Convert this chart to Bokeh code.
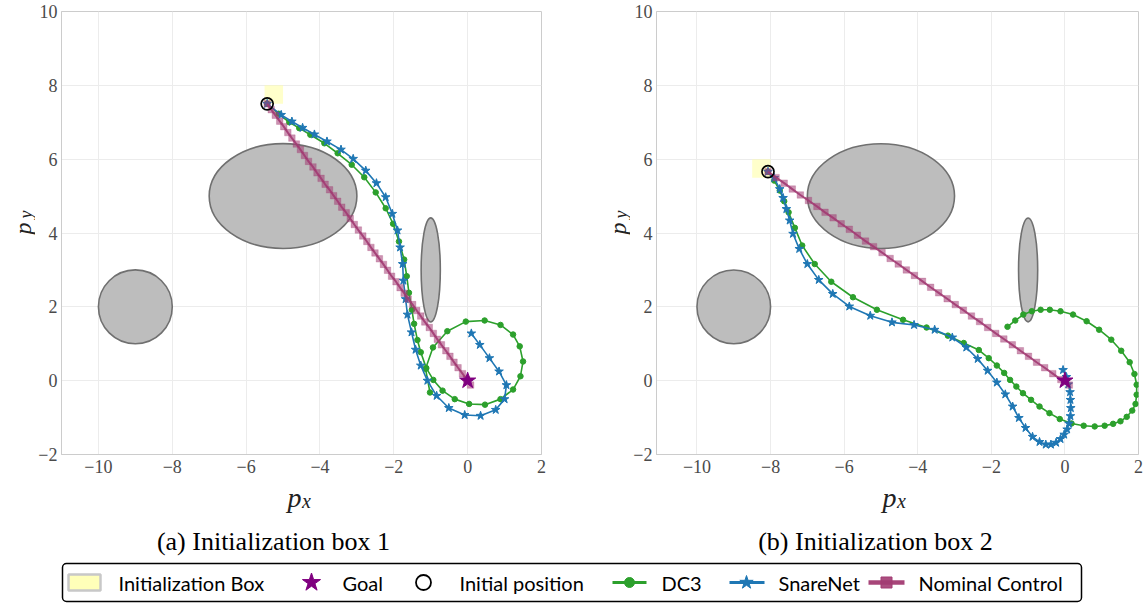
from math import pi
from bokeh.plotting import figure
from bokeh.layouts import column, row
from bokeh.models import Range1d, FixedTicker, CustomJSTickFormatter
from bokeh.embed import file_html
from bokeh.resources import INLINE
from bokeh.core.properties import value

# ---------------- data ----------------
x_ticks = [-10, -8, -6, -4, -2, 0, 2]
y_ticks = [-2, 0, 2, 4, 6, 8, 10]

obstacle_cx = [-9.0, -5.0, -1.0]
obstacle_cy = [2.0, 5.0, 3.0]
obstacle_w = [2.0, 4.0, 0.52]
obstacle_h = [2.0, 2.84, 2.82]

goal_x = [0.0]
goal_y = [0.0]

# initialization boxes: left, right, bottom, top
box1 = [-5.5, -5.0, 7.5, 8.0]
box2 = [-8.5, -8.0, 5.5, 6.0]

init1_x = [-5.43]
init1_y = [7.50]
init2_x = [-8.07]
init2_y = [5.66]

# ---- panel (a) ----
dc3_a_x = [-5.43, -5.12, -4.83, -4.56, -4.26, -3.88, -3.52, -3.14, -2.80, -2.49, -2.22, -2.02, -1.86,
           -1.72, -1.65, -1.59, -1.51, -1.45, -1.36, -1.27, -1.12, -0.93, -0.68, -0.35, 0.04, 0.47,
           0.89, 1.23, 1.43, 1.50, 1.41, 1.23, 0.89, 0.46, -0.05, -0.55, -0.94, -1.14, -1.02]
dc3_a_y = [7.50, 7.23, 7.00, 6.84, 6.66, 6.43, 6.16, 5.85, 5.51, 5.10, 4.67, 4.25, 3.77,
           3.28, 2.83, 2.38, 1.92, 1.54, 1.10, 0.77, 0.34, 0.02, -0.27, -0.50, -0.63, -0.65,
           -0.50, -0.24, 0.12, 0.52, 0.93, 1.25, 1.51, 1.63, 1.60, 1.34, 0.90, 0.32, -0.32]

snare_a_x = [-5.43, -5.05, -4.76, -4.47, -4.15, -3.81, -3.43, -3.10, -2.76, -2.47, -2.22, -2.04, -1.90,
             -1.83, -1.76, -1.74, -1.68, -1.63, -1.52, -1.41, -1.27, -1.09, -0.84, -0.51, -0.08, 0.35,
             0.76, 1.00, 1.05, 0.85, 0.59, 0.33, 0.10]
snare_a_y = [7.50, 7.20, 7.02, 6.85, 6.67, 6.48, 6.26, 6.01, 5.69, 5.35, 4.97, 4.52, 4.07,
             3.61, 3.16, 2.71, 2.21, 1.79, 1.31, 0.84, 0.41, 0.00, -0.41, -0.74, -0.93, -0.95,
             -0.79, -0.50, -0.12, 0.25, 0.61, 0.97, 1.28]

nom_a_x = [-5.43, -5.32, -5.21, -5.09, -4.98, -4.87, -4.76, -4.64, -4.53, -4.42,
           -4.31, -4.19, -4.08, -3.97, -3.86, -3.74, -3.63, -3.52, -3.41, -3.29,
           -3.18, -3.07, -2.96, -2.84, -2.73, -2.62, -2.51, -2.39, -2.28, -2.17,
           -2.06, -1.94, -1.83, -1.72, -1.61, -1.49, -1.38, -1.27, -1.16, -1.04,
           -0.93, -0.82, -0.71, -0.59, -0.48, -0.37, -0.26, -0.14, -0.03, 0.08]
nom_a_y = [7.50, 7.34, 7.19, 7.03, 6.88, 6.72, 6.57, 6.41, 6.26, 6.10,
           5.94, 5.79, 5.63, 5.48, 5.32, 5.17, 5.01, 4.86, 4.70, 4.55,
           4.39, 4.23, 4.08, 3.92, 3.77, 3.61, 3.46, 3.30, 3.15, 2.99,
           2.83, 2.68, 2.52, 2.37, 2.21, 2.06, 1.90, 1.75, 1.59, 1.44,
           1.28, 1.12, 0.97, 0.81, 0.66, 0.50, 0.35, 0.19, 0.04, -0.12]

# ---- panel (b) ----
dc3_b_x = [-8.07, -7.90, -7.75, -7.63, -7.51, -7.34, -7.14, -6.80, -6.35, -5.76, -5.11, -4.40, -3.76,
           -3.18, -2.75, -2.34, -2.07, -1.85, -1.65, -1.49, -1.32, -1.14, -0.92, -0.69, -0.42, -0.14,
           0.18, 0.51, 0.81, 1.08, 1.31, 1.51, 1.68, 1.83, 1.92, 1.95, 1.95, 1.89, 1.76, 1.53,
           1.26, 0.93, 0.59, 0.22, -0.12, -0.41, -0.66, -0.90, -1.13, -1.35, -1.56]
dc3_b_y = [5.66, 5.42, 5.15, 4.86, 4.56, 4.14, 3.66, 3.16, 2.68, 2.26, 1.92, 1.65, 1.44,
           1.22, 1.02, 0.83, 0.61, 0.41, 0.21, 0.02, -0.16, -0.34, -0.52, -0.70, -0.88, -1.04,
           -1.16, -1.22, -1.24, -1.22, -1.17, -1.10, -0.98, -0.81, -0.63, -0.38, -0.11, 0.18, 0.50, 0.81,
           1.11, 1.38, 1.61, 1.79, 1.88, 1.92, 1.92, 1.88, 1.79, 1.63, 1.46]

snare_b_x = [-8.07, -7.90, -7.75, -7.66, -7.57, -7.48, -7.39, -7.22, -7.00, -6.69, -6.31, -5.86, -5.29,
             -4.70, -4.10, -3.54, -3.06, -2.68, -2.37, -2.10, -1.85, -1.62, -1.42, -1.25, -1.07, -0.88,
             -0.69, -0.52, -0.38, -0.24, -0.12, -0.02, 0.06, 0.11, 0.15, 0.16, 0.15, 0.14, 0.09, 0.04, -0.05]
snare_b_y = [5.66, 5.49, 5.19, 4.95, 4.65, 4.34, 3.98, 3.57, 3.16, 2.73, 2.35, 2.01, 1.76,
             1.58, 1.51, 1.38, 1.17, 0.90, 0.59, 0.27, -0.05, -0.37, -0.70, -1.01, -1.28, -1.52,
             -1.66, -1.73, -1.73, -1.68, -1.58, -1.46, -1.32, -1.16, -0.96, -0.74, -0.52, -0.31, -0.10, 0.10, 0.29]

nom_b_x = [-8.07, -7.85, -7.63, -7.41, -7.19, -6.97, -6.74, -6.52, -6.30, -6.08,
           -5.86, -5.64, -5.42, -5.20, -4.97, -4.75, -4.53, -4.31, -4.09, -3.87,
           -3.65, -3.43, -3.20, -2.98, -2.76, -2.54, -2.32, -2.10, -1.88, -1.66,
           -1.43, -1.21, -0.99, -0.77, -0.55, -0.33, -0.11, 0.12]
nom_b_y = [5.66, 5.50, 5.35, 5.19, 5.03, 4.88, 4.72, 4.56, 4.41, 4.25,
           4.10, 3.94, 3.78, 3.63, 3.47, 3.31, 3.16, 3.00, 2.85, 2.69,
           2.53, 2.38, 2.22, 2.06, 1.91, 1.75, 1.60, 1.44, 1.28, 1.13,
           0.97, 0.81, 0.66, 0.50, 0.35, 0.19, 0.03, -0.12]

captions = ["(a) Initialization box 1", "(b) Initialization box 2"]
legend_labels = ["Initialization Box", "Goal", "Initial position", "DC3", "SnareNet", "Nominal Control"]

# ---------------- style ----------------
GREEN = "#2ca02c"
BLUE = "#1f77b4"
MAG = "#A23B72"
PURPLE = "#800080"
BOXFILL = "#ffffa8"
SERIF = "Liberation Serif"
TXT = "#222222"
TOP_H = 482
YLAB_W = 35

minus_fmt = CustomJSTickFormatter(code="return tick < 0 ? '\u2212' + Math.abs(tick) : String(tick);")


def blank_fig(width, height):
    f = figure(width=width, height=height, x_range=Range1d(0, width), y_range=Range1d(0, height),
               output_backend="svg", toolbar_location=None, x_axis_type=None, y_axis_type=None,
               min_border=0, min_border_left=0, min_border_right=0, min_border_top=0,
               min_border_bottom=0)
    f.outline_line_color = None
    f.background_fill_color = "white"
    f.border_fill_color = "white"
    f.xgrid.visible = False
    f.ygrid.visible = False
    return f


def ylabel_fig(width):
    f = blank_fig(width, TOP_H)
    # p_y, rotated, reading upwards
    f.text(x=[22.5], y=[TOP_H - 236], text=["p"], angle=pi / 2, text_font=value(SERIF),
           text_font_style="italic", text_font_size="24px", text_align="center",
           text_baseline="alphabetic", text_color=TXT)
    f.text(x=[25.5], y=[TOP_H - 221], text=["y"], angle=pi / 2, text_font=value(SERIF),
           text_font_style="italic", text_font_size="18px", text_align="center",
           text_baseline="alphabetic", text_color=TXT)
    return f


def make_panel(x_lo, width, b_left, b_right, box, ix, iy, dx, dy, sx, sy, nx, ny):
    p = figure(width=width, height=TOP_H, x_range=Range1d(x_lo, 2), y_range=Range1d(-2, 10),
               output_backend="svg", toolbar_location=None,
               min_border_left=b_left, min_border_right=b_right,
               min_border_top=11, min_border_bottom=TOP_H - 454)
    p.background_fill_color = "white"
    p.border_fill_color = "white"
    p.outline_line_color = "#cccccc"
    p.outline_line_width = 1
    for ax, ticks in ((p.xaxis, x_ticks), (p.yaxis, y_ticks)):
        ax.ticker = FixedTicker(ticks=ticks)
        ax.formatter = minus_fmt
        ax.axis_line_color = "#cccccc"
        ax.major_tick_line_color = None
        ax.minor_tick_line_color = None
        ax.major_tick_out = 0
        ax.major_tick_in = 0
        ax.minor_tick_out = 0
        ax.major_label_text_font = SERIF
        ax.major_label_text_font_size = "18px"
        ax.major_label_text_color = "#4a4a4a"
    p.xaxis.major_label_standoff = 5
    p.yaxis.major_label_standoff = 4
    p.xgrid.grid_line_color = "#ececec"
    p.ygrid.grid_line_color = "#ececec"

    # obstacles
    p.ellipse(x=obstacle_cx, y=obstacle_cy, width=obstacle_w, height=obstacle_h,
              fill_color="#bdbdbd", line_color="#707070", line_width=1.6)
    # initialization box
    p.quad(left=[box[0]], right=[box[1]], bottom=[box[2]], top=[box[3]],
           fill_color=BOXFILL, fill_alpha=0.6, line_color=None)
    # DC3
    p.line(dx, dy, line_color=GREEN, line_width=1.6)
    p.scatter(dx, dy, marker="circle", size=5.5, fill_color=GREEN, line_color=GREEN)
    # SnareNet
    p.line(sx, sy, line_color=BLUE, line_width=1.6)
    p.scatter(sx, sy, marker="star", size=9, fill_color=BLUE, line_color=BLUE)
    # Nominal control
    p.line(nx, ny, line_color=MAG, line_width=2.0, line_alpha=0.9)
    p.scatter(nx, ny, marker="square", size=6.5, fill_color=MAG, fill_alpha=0.55,
              line_color=MAG, line_alpha=0.25)
    # goal
    p.scatter(goal_x, goal_y, marker="star", size=17, fill_color=PURPLE, line_color=PURPLE)
    # initial position
    p.scatter(ix, iy, marker="circle", size=12, fill_color=None, line_color="black", line_width=1.7)
    return p


ya = ylabel_fig(YLAB_W)
pa = make_panel(-11.0, 595 - YLAB_W, 59 - YLAB_W, 54, box1, init1_x, init1_y, dc3_a_x, dc3_a_y,
                snare_a_x, snare_a_y, nom_a_x, nom_a_y)
yb = ylabel_fig(YLAB_W)
pb = make_panel(-11.1, 553 - YLAB_W, 58 - YLAB_W, 10, box2, init2_x, init2_y, dc3_b_x, dc3_b_y,
                snare_b_x, snare_b_y, nom_b_x, nom_b_y)

# ---------------- p_x labels, captions + legend ----------------
BOT_H = 603 - TOP_H
pl = blank_fig(1148, BOT_H)

# p_x labels (page y of baseline 497 / 500)
pl.text(x=[294, 889], y=[603 - 497] * 2, text=["p", "p"], text_font=value(SERIF),
        text_font_style="italic", text_font_size="28px", text_align="center",
        text_baseline="alphabetic", text_color=TXT)
pl.text(x=[306, 901], y=[603 - 500] * 2, text=["x", "x"], text_font=value(SERIF),
        text_font_style="italic", text_font_size="20px", text_align="center",
        text_baseline="alphabetic", text_color=TXT)

pl.text(x=[273, 875], y=[62, 62], text=captions, text_font=value(SERIF), text_font_size="26px",
        text_align="center", text_baseline="middle", text_color="black")

# legend frame
try:
    pl.quad(left=[62], right=[1081], bottom=[2], top=[40], fill_color="white",
            line_color="black", line_width=1.5, border_radius=4)
except Exception:
    pl.quad(left=[62], right=[1081], bottom=[2], top=[40], fill_color="white",
            line_color="black", line_width=1.5)
LY = 21
# swatch: initialization box
pl.quad(left=[68], right=[100], bottom=[LY - 8], top=[LY + 8], fill_color=BOXFILL, fill_alpha=0.8,
        line_color="#c8c8c8", line_width=2.5)
# goal
pl.scatter([311], [LY], marker="star", size=19, fill_color=PURPLE, line_color=PURPLE)
# initial position
pl.scatter([423], [LY], marker="circle", size=15, fill_color=None, line_color="black", line_width=1.8)
# DC3
pl.line([612, 646], [LY, LY], line_color=GREEN, line_width=2.8)
pl.scatter([629], [LY], marker="circle", size=10, fill_color=GREEN, line_color=GREEN)
# SnareNet
pl.line([729, 764], [LY, LY], line_color=BLUE, line_width=2.8)
pl.scatter([746], [LY], marker="star", size=14, fill_color=BLUE, line_color=BLUE)
# Nominal Control
pl.line([868, 904], [LY, LY], line_color=MAG, line_width=4.5, line_alpha=0.95)
pl.scatter([886], [LY], marker="square", size=11, fill_color=MAG, line_color=MAG, fill_alpha=0.9)

pl.text(x=[118, 342, 459, 661, 778, 918], y=[LY] * 6, text=legend_labels,
        text_font=value("Lato"), text_font_size="20px", text_align="left",
        text_baseline="middle", text_color="black")

layout = column(row(ya, pa, yb, pb, spacing=0), pl, spacing=0)

with open("out.html", "w") as f:
    f.write(file_html(layout, INLINE))
